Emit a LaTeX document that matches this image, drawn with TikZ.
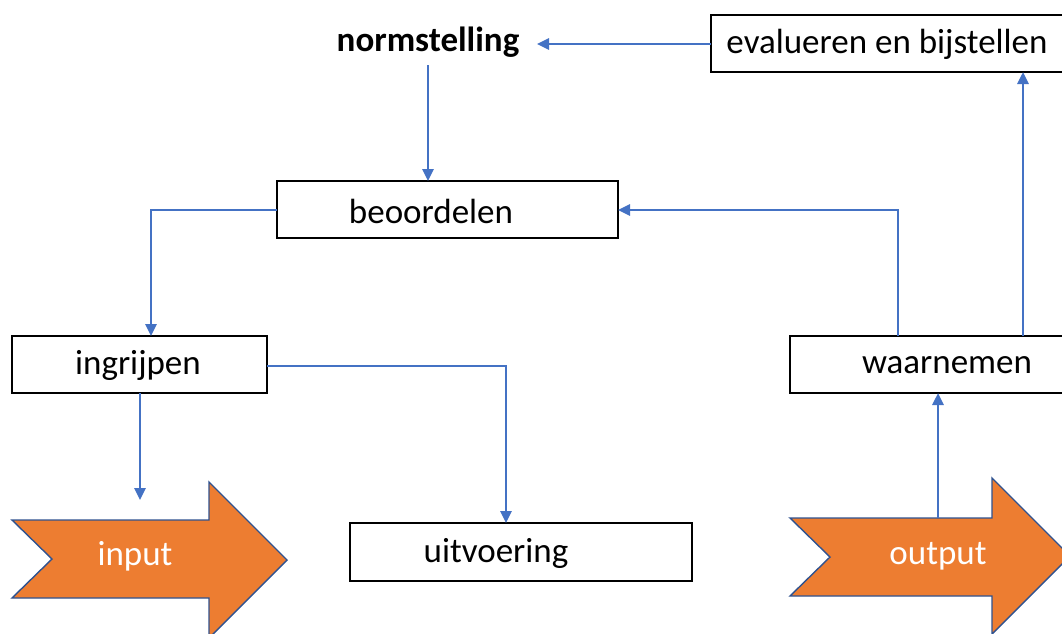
\documentclass[tikz,border=0pt]{standalone}
\usepackage{fontspec}
\setmainfont{Carlito}
\usetikzlibrary{arrows.meta}
\definecolor{linkblue}{HTML}{4472C4}
\definecolor{shapeorange}{HTML}{ED7D31}
\definecolor{edgeblue}{HTML}{2F528F}
\newcommand{\labelsize}{\fontsize{35}{40}\selectfont}
\tikzset{
  stepbox/.style={draw=black, line width=1.8pt, fill=white, inner sep=0pt},
  plain/.style={inner sep=0pt, font=\labelsize},
  link/.style={draw=linkblue, line width=2.6pt},
  linkarrow/.style={link, -{Triangle[length=12pt,width=11pt]}},
  bigarrow/.style={fill=shapeorange, draw=edgeblue, line width=1.4pt, line join=miter},
  arrowtext/.style={inner sep=0pt, text=white, font=\labelsize}
}
\begin{document}
\begin{tikzpicture}[x=1pt, y=-1pt]
\useasboundingbox (0,0) rectangle (1062,633);
\clip (0,0) rectangle (1062,633);

% boxes
\node[plain, font=\labelsize\bfseries] (norm) at (428,42) {normstelling};
\node[stepbox, minimum width=352pt, minimum height=57pt] (eval) at (887,43.5) {};
\node[plain] at (887,44) {evalueren en bijstellen};
\node[stepbox, minimum width=341pt, minimum height=57pt] (beoord) at (447.5,209.5) {};
\node[plain] at (431,211) {beoordelen};
\node[stepbox, minimum width=255pt, minimum height=57pt] (ingr) at (139.5,364.5) {};
\node[plain] at (138,365) {ingrijpen};
\node[stepbox, minimum width=280pt, minimum height=57pt] (waarn) at (930,364.5) {};
\node[plain] at (947,365) {waarnemen};
\node[stepbox, minimum width=342pt, minimum height=58pt] (uitv) at (521,552) {};
\node[plain] at (496,553) {uitvoering};

% block arrows
\draw[bigarrow] (12,520) -- (209,520) -- (209,482) -- (287,560) -- (209,638)
  -- (209,598) -- (12,598) -- (52,559) -- cycle;
\node[arrowtext] (input) at (135,556) {input};
\draw[bigarrow] (790,518) -- (992,518) -- (992,478) -- (1070,556) -- (992,634)
  -- (992,596) -- (790,596) -- (830,557) -- cycle;
\node[arrowtext] (output) at (938,556) {output};

% connection points
\coordinate (evalW) at (711,44);
\coordinate (normE) at (537,44);
\coordinate (normS) at (428,65);
\coordinate (beoordN) at (428,181);
\coordinate (beoordW) at (277,210);
\coordinate (beoordE) at (618,210);
\coordinate (ingrN) at (151,336);
\coordinate (ingrE) at (267,366);
\coordinate (ingrS) at (140,393);
\coordinate (freeEnd) at (140,500);
\coordinate (uitvN) at (506,523);
\coordinate (waarnNa) at (898,336);
\coordinate (waarnNb) at (1023,336);
\coordinate (waarnS) at (938,393);
\coordinate (evalS) at (1023,72);
\coordinate (outTop) at (938,518);

% connectors
\draw[linkarrow] (evalW) -- (normE);
\draw[linkarrow] (normS) -- (beoordN);
\draw[linkarrow] (beoordW) -| (ingrN);
\draw[linkarrow] (waarnNa) |- (beoordE);
\draw[linkarrow] (waarnNb) -- (evalS);
\draw[linkarrow] (ingrE) -| (uitvN);
\draw[linkarrow] (ingrS) -- (freeEnd);
\draw[linkarrow] (outTop) -- (waarnS);
\end{tikzpicture}
\end{document}
